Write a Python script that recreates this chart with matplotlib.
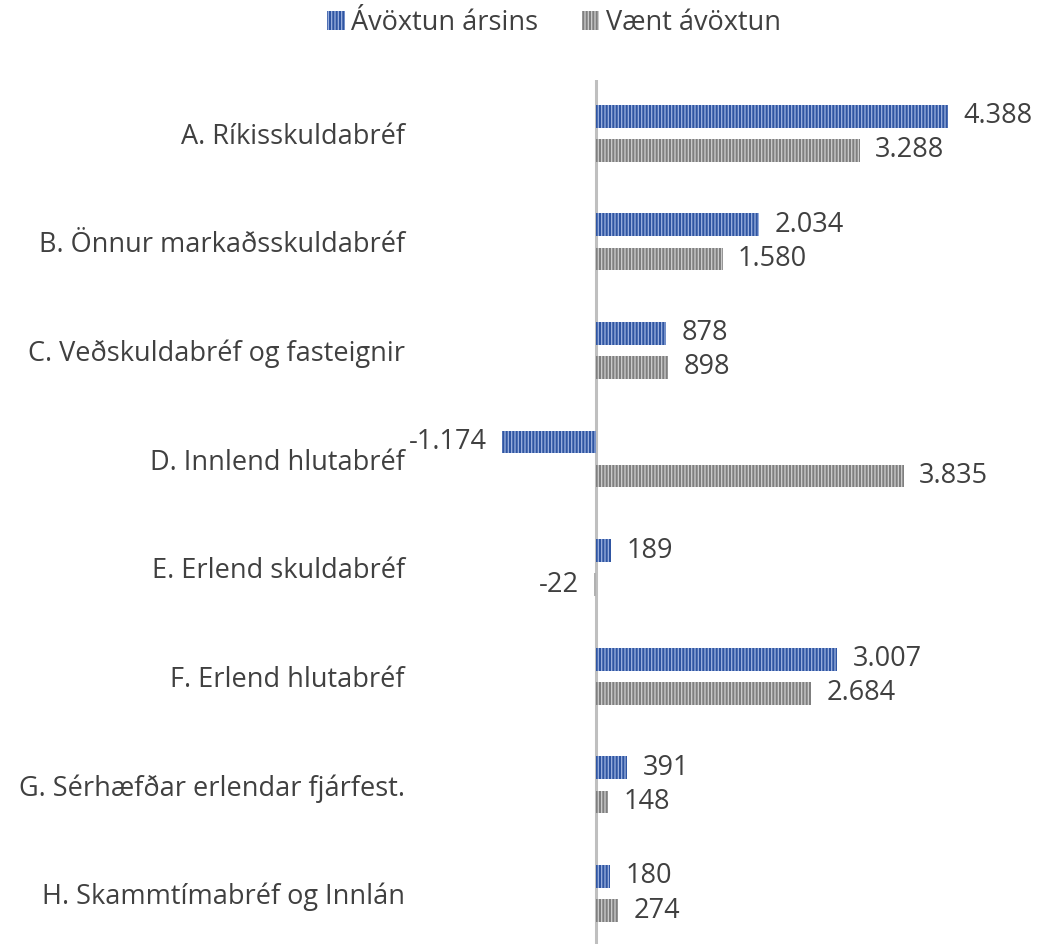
import matplotlib
matplotlib.use("Agg")
import matplotlib.pyplot as plt
from matplotlib.patches import Patch
import numpy as np

categories = ["A. Ríkisskuldabréf", "B. Önnur markaðsskuldabréf", "C. Veðskuldabréf og fasteignir",
              "D. Innlend hlutabréf", "E. Erlend skuldabréf", "F. Erlend hlutabréf",
              "G. Sérhæfðar erlendar fjárfest.", "H. Skammtímabréf og Innlán"]
avoxtun_arsins = [4388, 2034, 878, -1174, 189, 3007, 391, 180]
vaent_avoxtun = [3288, 1580, 898, 3835, -22, 2684, 148, 274]
series_names = ["Ávöxtun ársins", "Vænt ávöxtun"]

plt.rcParams['font.family'] = ['Open Sans', 'DejaVu Sans']
plt.rcParams['hatch.linewidth'] = 0.9
text_color = "#404040"
fsize = 19.5

W, H = 1037, 944
fig = plt.figure(figsize=(W / 100, H / 100), dpi=100)
ax = fig.add_axes([455 / W, 0, 545 / W, 864 / H])

y = np.arange(len(categories))
bh = 0.209
off = 0.157

def fmt(v):
    s = f"{abs(v):,}".replace(",", ".")
    return ("-" if v < 0 else "") + s

styles = [("#2F55A2", "#9DB3E0"), ("#7F7F7F", "#CFCFCF")]
for vals, dy, (fc, hc) in zip([avoxtun_arsins, vaent_avoxtun], [-off, off], styles):
    ax.barh(y + dy, vals, height=bh, color=fc, edgecolor=hc, linewidth=0, hatch="|||||")
    for yi, v in zip(y, vals):
        sign = 1 if v >= 0 else -1
        ax.annotate(fmt(v), (v, yi + dy), xytext=(11 * sign, 0), textcoords="offset points",
                    ha="left" if v >= 0 else "right", va="center", fontsize=fsize, color=text_color)

ax.axvline(0, color="#BFBFBF", lw=2.2, zorder=0)
ax.set_xlim(-1758, 5038)
ax.set_ylim(7.465, -0.49)
ax.set_xticks([])
ax.set_yticks(y)
ax.set_yticklabels(categories, fontsize=fsize, color=text_color)
ax.tick_params(axis="y", length=0, pad=36)
for sp in ax.spines.values():
    sp.set_visible(False)

handles = [Patch(facecolor=fc, edgecolor=hc, linewidth=0, hatch="|||||") for fc, hc in styles]
fig.legend(handles, series_names, loc="center", bbox_to_anchor=(554 / W, 1 - 23 / H), ncol=2,
           frameon=False, fontsize=fsize, labelcolor=text_color, handlelength=0.65, handleheight=0.65,
           handletextpad=0.25, columnspacing=1.6)

fig.savefig("out.png", dpi=100)
